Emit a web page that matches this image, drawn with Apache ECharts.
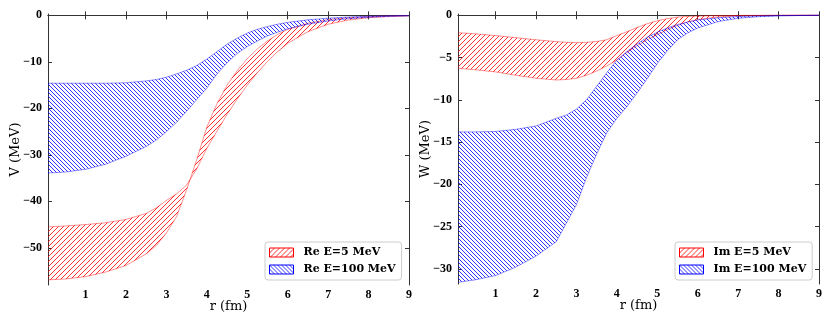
<!DOCTYPE html>
<html>
<head>
<meta charset="utf-8">
<script src="https://cdn.jsdelivr.net/npm/echarts@6/dist/echarts.min.js"></script>
<style>
  html, body { margin: 0; padding: 0; background: #fff; }
  #chart { width: 830px; height: 320px; }
</style>
</head>
<body>
<div id="chart"></div>
<script>
// radius grid (fm), shared by every curve
const r = [0.07, 0.5, 1, 1.5, 2, 2.5, 2.75, 3, 3.25, 3.5, 3.75, 4, 4.25, 4.5, 4.75, 5, 5.25, 5.5, 5.75, 6, 6.5, 7, 7.5, 8, 8.5, 9]

// real part, E=5 MeV (two edges of the band)
const reLowA = [-45.5, -45.3, -45.0, -44.6, -43.9, -42.6, -41.4, -39.8, -38.4, -36.5, -33.0, -28.6, -24.9, -21.3, -18.0, -15.0, -12.3, -9.9, -7.8, -6.0, -3.5, -1.9, -1.0, -0.5, -0.25, -0.1]
const reLowB = [-56.9, -56.7, -56.2, -55.2, -53.8, -51.3, -49.5, -46.8, -43.3, -37.5, -31.0, -24.0, -19.0, -15.0, -11.9, -9.3, -7.2, -5.5, -4.1, -3.0, -1.7, -0.9, -0.5, -0.25, -0.1, -0.05]
// real part, E=100 MeV
const reHighTop = [-14.6, -14.6, -14.6, -14.6, -14.5, -14.1, -13.8, -13.3, -12.6, -11.8, -10.8, -9.4, -7.8, -6.2, -4.9, -3.8, -3.0, -2.4, -1.9, -1.5, -0.95, -0.6, -0.35, -0.2, -0.1, -0.05]
const reHighBot = [-33.9, -33.7, -33.1, -32.0, -30.3, -28.2, -26.8, -25.0, -23.0, -20.6, -18.1, -15.6, -12.6, -10.2, -8.2, -6.7, -5.5, -4.4, -3.6, -2.9, -1.9, -1.2, -0.7, -0.4, -0.2, -0.1]

// imaginary part, E=5 MeV
const imLowTop = [-2.06, -2.2, -2.4, -2.65, -2.9, -3.12, -3.2, -3.24, -3.2, -3.1, -2.9, -2.4, -1.95, -1.45, -1.0, -0.65, -0.4, -0.22, -0.14, -0.09, -0.04, -0.02, -0.01, 0, 0, 0]
const imLowBot = [-6.27, -6.45, -6.7, -7.1, -7.45, -7.66, -7.6, -7.45, -7.1, -6.6, -6.0, -5.3, -4.4, -3.6, -2.9, -2.3, -1.7, -1.2, -0.8, -0.52, -0.2, -0.07, -0.03, -0.01, 0, 0]
// imaginary part, E=100 MeV
const imHighTop = [-13.8, -13.8, -13.75, -13.5, -13.1, -12.2, -11.8, -11.1, -10.0, -8.4, -6.8, -5.3, -4.3, -3.4, -2.6, -2.0, -1.5, -1.1, -0.8, -0.55, -0.3, -0.15, -0.08, -0.03, -0.01, 0]
const imHighBot = [-31.6, -31.3, -30.8, -29.8, -28.5, -26.8, -24.6, -22.4, -19.2, -16.4, -13.9, -12.2, -10.8, -9.2, -7.5, -5.7, -4.2, -2.9, -2.1, -1.5, -0.75, -0.36, -0.17, -0.08, -0.03, -0.01]

const xTicks = [1, 2, 3, 4, 5, 6, 7, 8, 9]
const vTicks = [0, -10, -20, -30, -40, -50]
const wTicks = [0, -5, -10, -15, -20, -25, -30]

const RED = '#ff0000'
const BLUE = '#0000ff'
const tickFont = 'Liberation Serif'
const textFont = 'DejaVu Serif'

// diagonal hatch tile, dir '/' or '\'
function hatch(color, size, dir) {
  const c = document.createElement('canvas')
  c.width = size
  c.height = size
  const ctx = c.getContext('2d')
  ctx.strokeStyle = color
  ctx.lineWidth = 1
  ctx.beginPath()
  if (dir === '/') {
    ctx.moveTo(0, size); ctx.lineTo(size, 0)
    ctx.moveTo(-1, 1); ctx.lineTo(1, -1)
    ctx.moveTo(size - 1, size + 1); ctx.lineTo(size + 1, size - 1)
  } else {
    ctx.moveTo(0, 0); ctx.lineTo(size, size)
    ctx.moveTo(-1, size - 1); ctx.lineTo(1, size + 1)
    ctx.moveTo(size - 1, -1); ctx.lineTo(size + 1, 1)
  }
  ctx.stroke()
  return { image: c, repeat: 'repeat' }
}

const redHatch = hatch('rgba(255,0,0,0.8)', 5, '/')
const blueHatch = hatch('rgba(0,0,255,0.8)', 4, '\\')

const minus = (v) => (v === 0 ? '0' : (v < 0 ? '\u2212' : '') + Math.abs(v))

// hatched band between two edges, drawn as one polygon through the axis scales
function band(name, idx, top, bot, color, pattern) {
  return {
    name: name, type: 'custom', xAxisIndex: idx, yAxisIndex: idx,
    silent: true, clip: true,
    itemStyle: { color: color },
    data: r.map((x, i) => [x, top[i], bot[i]]),
    renderItem: function (params, api) {
      if (params.dataIndex !== 0) return null
      const upper = r.map((x, i) => api.coord([x, top[i]]))
      const lower = r.map((x, i) => api.coord([x, bot[i]])).reverse()
      const edge = { stroke: color, lineWidth: 0.8, opacity: 0.55, fill: null }
      return {
        type: 'group',
        children: [
          { type: 'polygon', shape: { points: upper.concat(lower) }, style: { fill: pattern } },
          { type: 'polyline', shape: { points: upper }, style: edge },
          { type: 'polyline', shape: { points: lower }, style: edge }
        ]
      }
    }
  }
}

const tickLabel = { color: '#000', fontFamily: tickFont, fontWeight: 'bold', fontSize: 12 }
const nameStyle = { color: '#000', fontFamily: textFont, fontSize: 13 }

function xAxes(gridIndex) {
  return [
    {
      type: 'value', gridIndex: gridIndex, min: 0.07, max: 9, position: 'bottom',
      name: 'r (fm)', nameLocation: 'middle', nameGap: 15, nameMoveOverlap: false,
      nameTextStyle: nameStyle,
      axisLine: { lineStyle: { color: '#333' } },
      axisTick: { inside: true, length: 4, customValues: xTicks, lineStyle: { color: '#333' } },
      axisLabel: Object.assign({ customValues: xTicks, margin: 4 }, tickLabel),
      splitLine: { show: false }
    },
    {
      type: 'value', gridIndex: gridIndex, min: 0.07, max: 9, position: 'top',
      axisLine: { lineStyle: { color: '#333' } },
      axisTick: { inside: true, length: 4, customValues: xTicks, lineStyle: { color: '#333' } },
      axisLabel: { show: false }, splitLine: { show: false }
    }
  ]
}

function yAxes(gridIndex, name, min, max, ticks) {
  return [
    {
      type: 'value', gridIndex: gridIndex, min: min, max: max, position: 'left',
      name: name, nameLocation: 'middle', nameGap: 26, nameMoveOverlap: false,
      nameTextStyle: nameStyle,
      axisLine: { show: true, lineStyle: { color: '#333' } },
      axisTick: { show: true, inside: true, length: 4, customValues: ticks, lineStyle: { color: '#333' } },
      axisLabel: Object.assign({ customValues: ticks, margin: 6, formatter: minus }, tickLabel),
      splitLine: { show: false }
    },
    {
      type: 'value', gridIndex: gridIndex, min: min, max: max, position: 'right',
      axisLine: { show: true, lineStyle: { color: '#333' } },
      axisTick: { show: true, inside: true, length: 4, customValues: ticks, lineStyle: { color: '#333' } },
      axisLabel: { show: false }, splitLine: { show: false }
    }
  ]
}

function legend(left, names) {
  return {
    left: left, top: 242, orient: 'vertical', icon: 'rect',
    itemWidth: 24, itemHeight: 9, itemGap: 6,
    padding: [5, 6, 5, 4],
    backgroundColor: '#fff', borderColor: '#ccc', borderWidth: 1, borderRadius: 3,
    textStyle: { color: '#000', fontFamily: textFont, fontWeight: 'bold', fontSize: 11, padding: [0, 0, 0, 5] },
    selectedMode: false,
    data: [
      { name: names[0], itemStyle: { color: redHatch, borderColor: RED, borderWidth: 1 } },
      { name: names[1], itemStyle: { color: blueHatch, borderColor: BLUE, borderWidth: 1 } }
    ]
  }
}

const chart = echarts.init(document.getElementById('chart'), null, { renderer: 'canvas' })
chart.setOption({
  animation: false,
  backgroundColor: '#fff',
  grid: [
    { left: 48, top: 14, width: 361, height: 271 },
    { left: 458, top: 14, width: 361, height: 270 }
  ],
  xAxis: [...xAxes(0), ...xAxes(1)],
  yAxis: [
    ...yAxes(0, 'V (MeV)', -58, 0.3, vTicks),
    ...yAxes(1, 'W (MeV)', -31.8, 0.15, wTicks)
  ],
  legend: [
    legend(265, ['Re E=5 MeV', 'Re E=100 MeV']),
    legend(675, ['Im E=5 MeV', 'Im E=100 MeV'])
  ],
  series: [
    band('Re E=5 MeV', 0, reLowA, reLowB, RED, redHatch),
    band('Re E=100 MeV', 0, reHighTop, reHighBot, BLUE, blueHatch),
    band('Im E=5 MeV', 2, imLowTop, imLowBot, RED, redHatch),
    band('Im E=100 MeV', 2, imHighTop, imHighBot, BLUE, blueHatch)
  ]
})
</script>
</body>
</html>
